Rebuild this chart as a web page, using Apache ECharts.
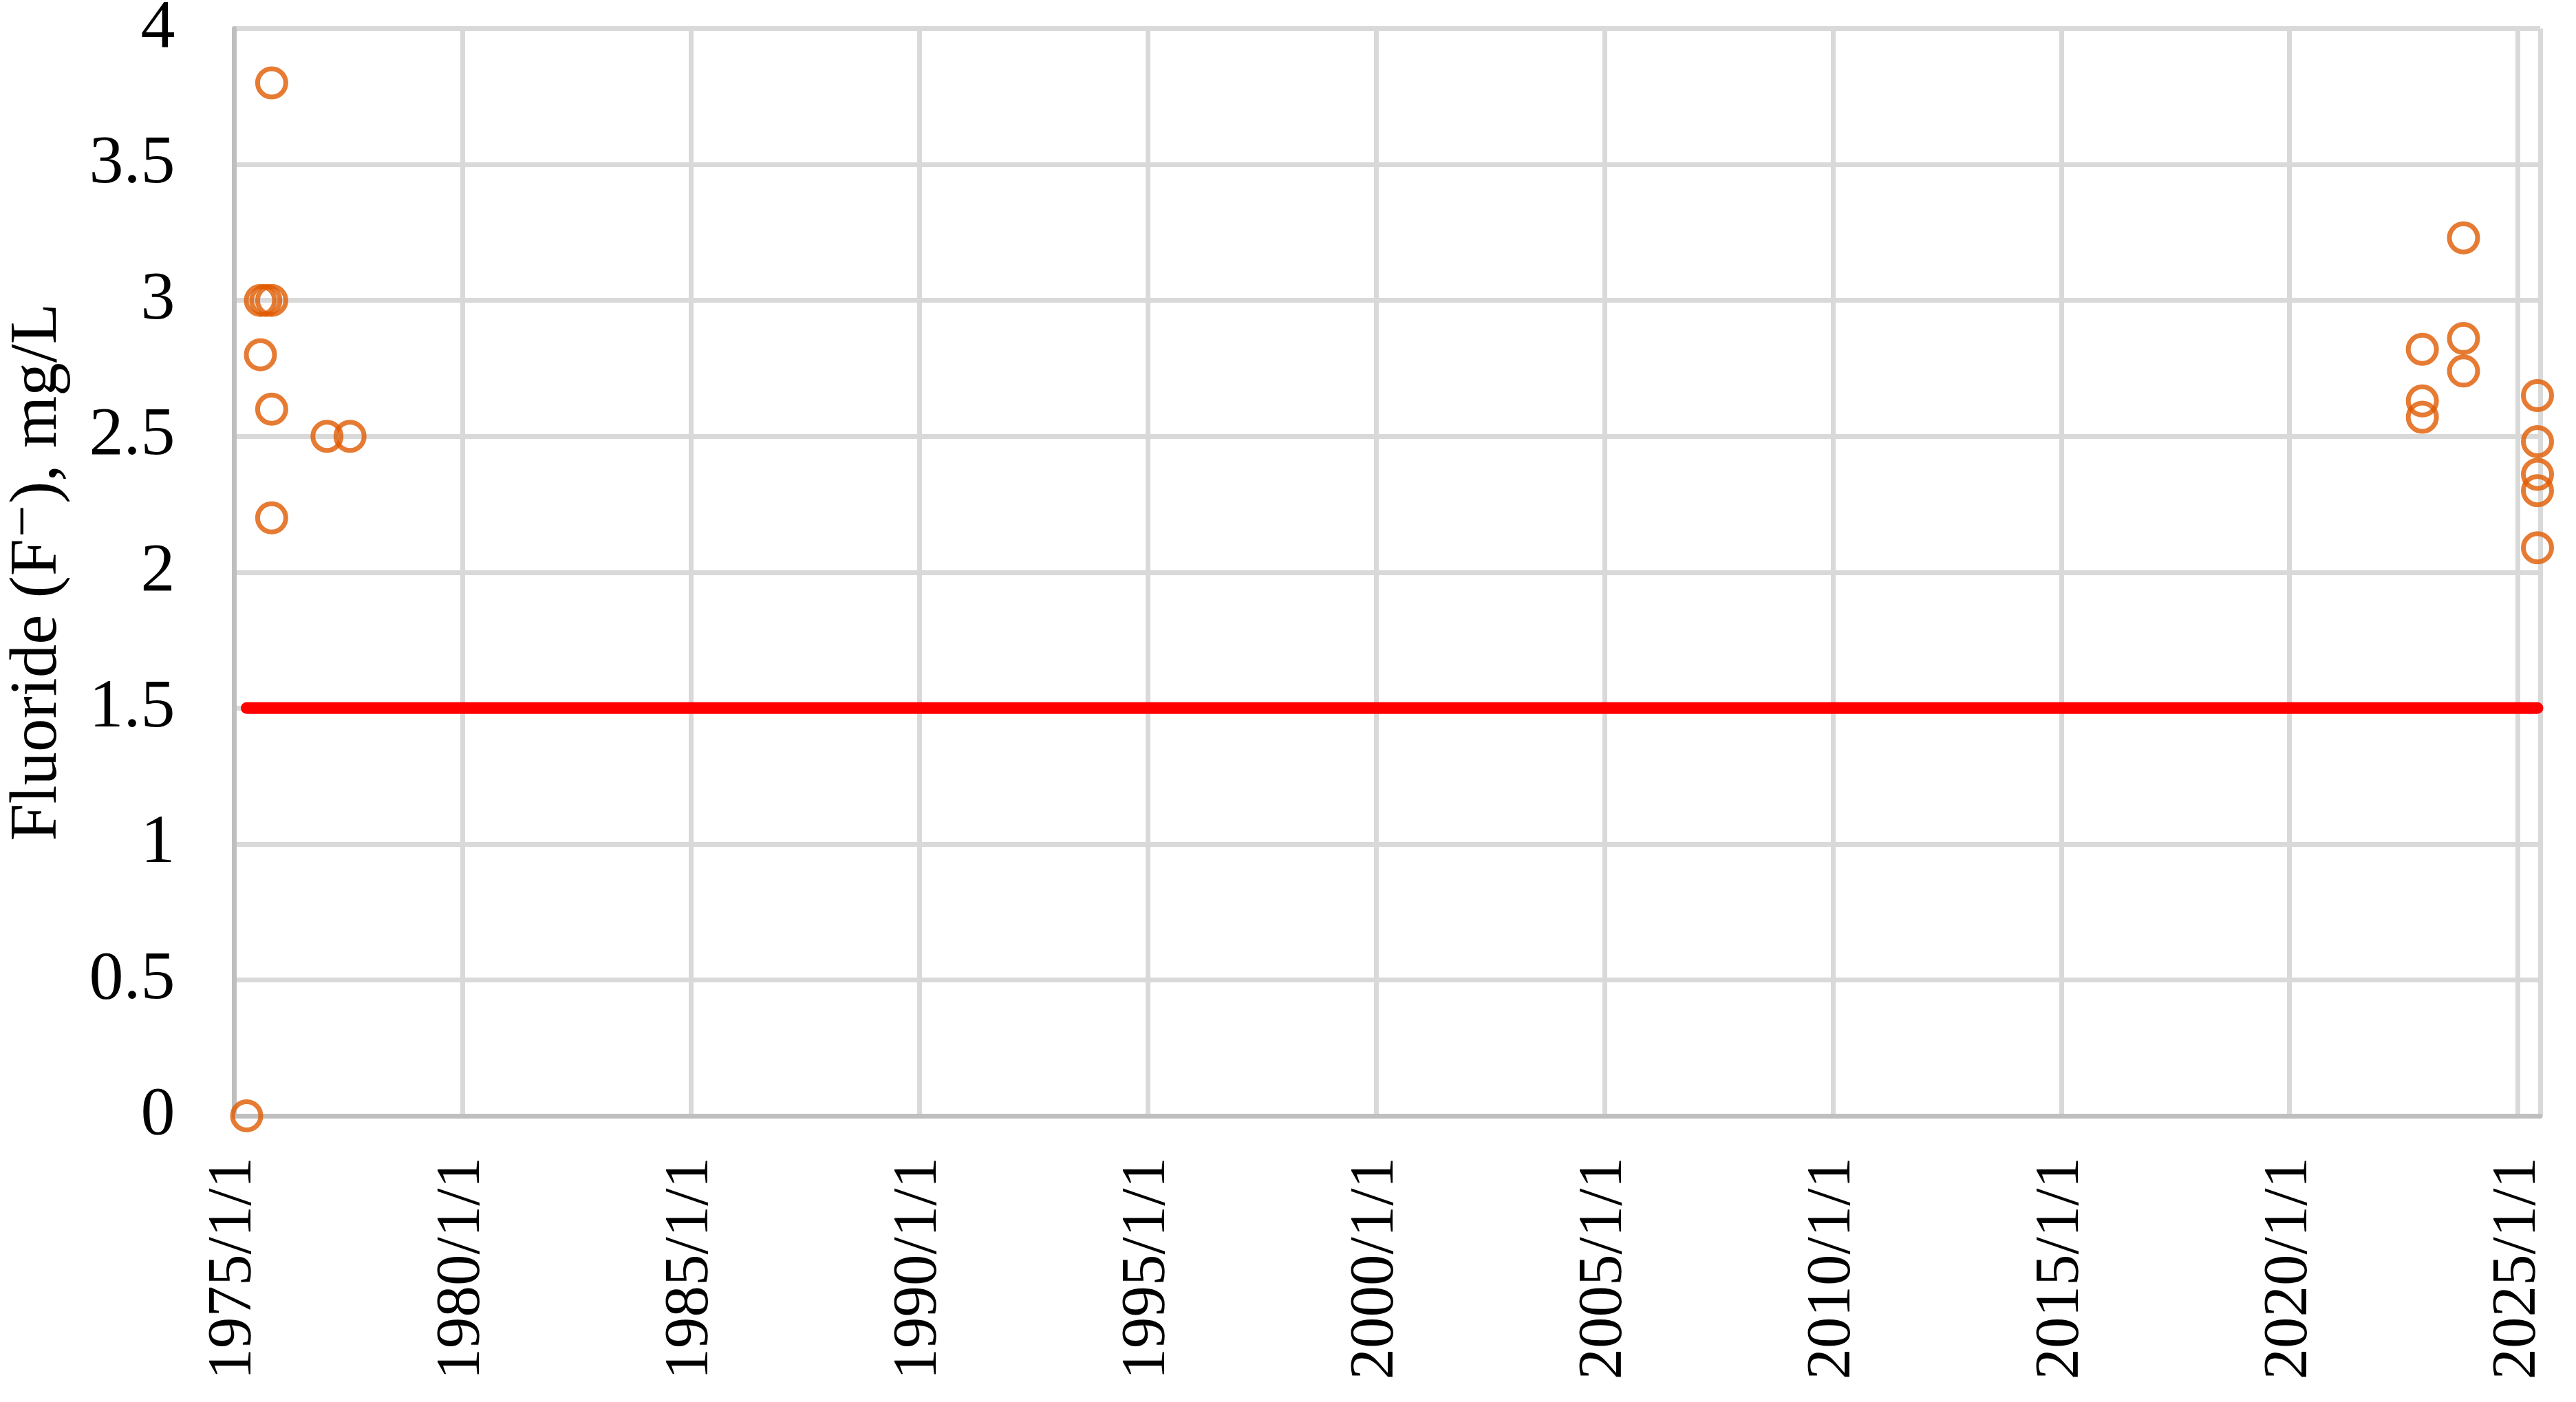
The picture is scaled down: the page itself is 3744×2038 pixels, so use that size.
<!DOCTYPE html>
<html>
<head>
<meta charset="utf-8">
<script src="https://cdn.jsdelivr.net/npm/echarts@6/dist/echarts.min.js"></script>
<style>
  html, body { margin: 0; padding: 0; background: #ffffff; }
  #chart { width: 3744px; height: 2038px; }
</style>
</head>
<body>
<div id="chart"></div>
<script>
// ---- Data ----
const sampleDates = [
  '1975-04-10',
  '1975-07-29', '1975-09-10', '1975-10-27',
  '1975-07-29',
  '1975-10-27', '1975-10-27', '1975-10-27',
  '1977-01-12', '1977-07-15',
  '2022-11-28', '2022-11-28', '2022-11-28',
  '2023-10-23', '2023-10-23', '2023-10-23',
  '2025-06-06', '2025-06-06', '2025-06-06', '2025-06-06', '2025-06-06'
];
const fluorideValues = [
  0,
  3.0, 3.0, 3.0,
  2.8,
  3.8, 2.6, 2.2,
  2.5, 2.5,
  2.82, 2.63, 2.57,
  3.23, 2.86, 2.74,
  2.65, 2.48, 2.36, 2.30, 2.09
];
const guidelineDates = ['1975-04-10', '2025-06-06'];
const guidelineValues = [1.5, 1.5];
const xAxisStart = '1975-01-01';
const xAxisEnd = '2025-06-28';
const xTickStepYears = 5;
const yTickMin = 0, yTickMax = 4, yTickStep = 0.5;
const yAxisTitle = 'Fluoride (F\u207B), mg/L';

// date string -> decimal year (so that gridlines sit on Jan 1 of each year)
function toYear(s) {
  const [y, m, d] = s.split('-').map(Number);
  const start = Date.UTC(y, 0, 1), end = Date.UTC(y + 1, 0, 1);
  return y + (Date.UTC(y, m - 1, d) - start) / (end - start);
}

const scatterData = sampleDates.map((d, i) => [toYear(d), fluorideValues[i]]);
const guideData = guidelineDates.map((d, i) => [toYear(d), guidelineValues[i]]);

const FONT = '"Liberation Serif", "Times New Roman", "DejaVu Serif", serif';

const chart = echarts.init(document.getElementById('chart'), null, { renderer: 'canvas' });
chart.setOption({
  animation: false,
  backgroundColor: '#ffffff',
  grid: { left: 340.5, right: 52, top: 41.5, bottom: 416, containLabel: false, outerBoundsMode: 'none' },
  xAxis: {
    type: 'value',
    min: toYear(xAxisStart),
    max: toYear(xAxisEnd),
    interval: xTickStepYears,
    axisLine: { show: true, onZero: false, lineStyle: { color: '#BFBFBF', width: 7 } },
    axisTick: { show: false },
    splitLine: { show: true, lineStyle: { color: '#D9D9D9', width: 7 } },
    axisLabel: {
      rotate: 90,
      margin: 60,
      fontFamily: FONT,
      fontSize: 91,
      color: '#000000',
      showMaxLabel: false,
      formatter: v => Math.round(v) + '/1/1'
    }
  },
  yAxis: {
    type: 'value',
    min: yTickMin,
    max: yTickMax,
    interval: yTickStep,
    name: yAxisTitle,
    nameLocation: 'middle',
    nameRotate: 90,
    nameGap: 236,
    nameTextStyle: { fontFamily: FONT, fontSize: 97, color: '#000000' },
    axisLine: { show: true, lineStyle: { color: '#BFBFBF', width: 7 } },
    axisTick: { show: false },
    splitLine: { show: true, lineStyle: { color: '#D9D9D9', width: 7 } },
    axisLabel: {
      margin: 86,
      fontFamily: FONT,
      fontSize: 100,
      color: '#000000'
    }
  },
  series: [
    {
      type: 'line',
      data: guideData,
      showSymbol: false,
      symbol: 'none',
      clip: true,
      lineStyle: { color: '#FF0000', width: 17, cap: 'round' },
      z: 2
    },
    {
      type: 'scatter',
      data: scatterData,
      symbol: 'circle',
      symbolSize: 41,
      clip: false,
      itemStyle: { color: 'rgba(0,0,0,0)', borderColor: '#E05A00', borderWidth: 7 },
      z: 3
    }
  ]
});
</script>
</body>
</html>
